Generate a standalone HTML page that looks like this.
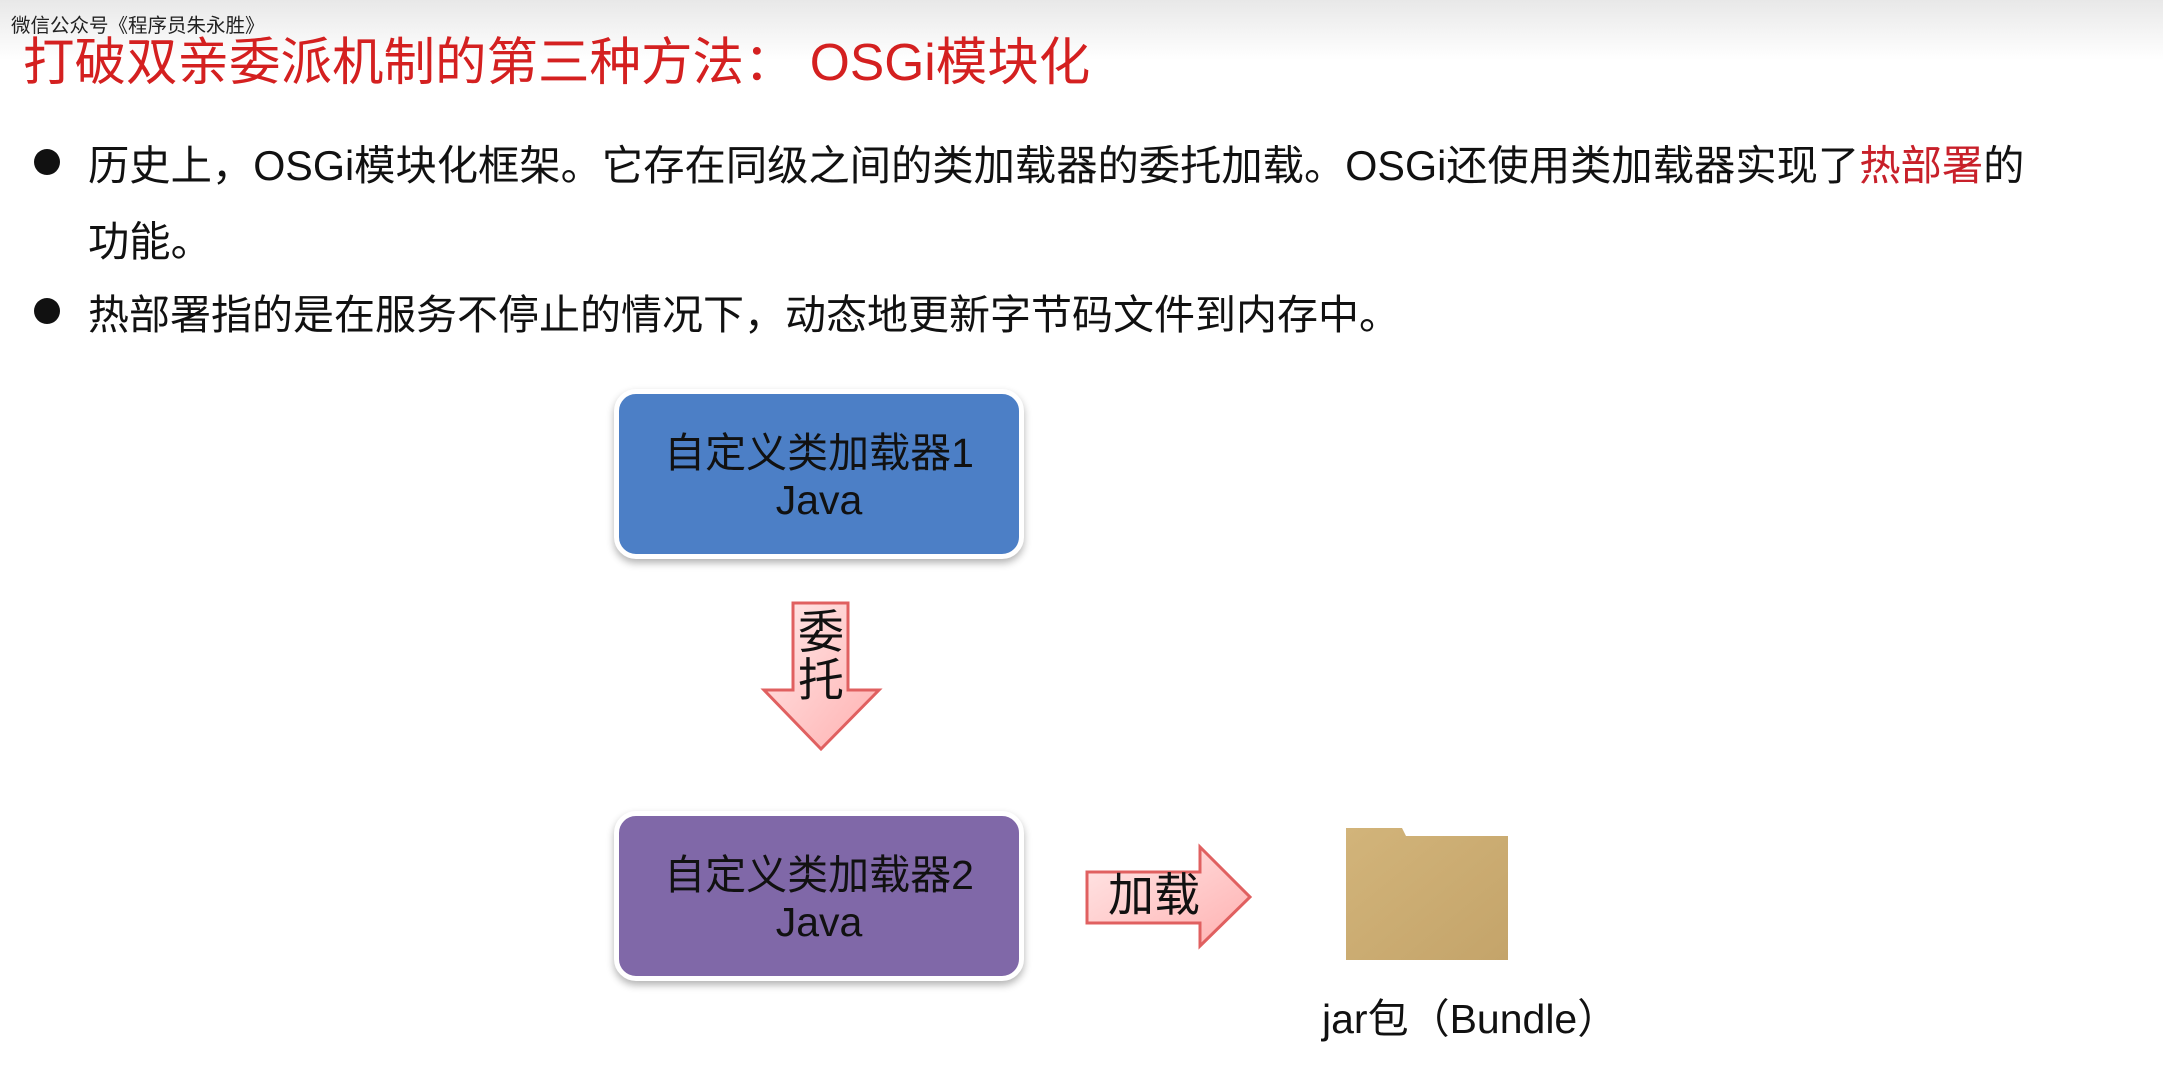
<!DOCTYPE html>
<html><head><meta charset="utf-8">
<style>
body{margin:0;width:2163px;height:1084px;position:relative;overflow:hidden;background:#fff;font-family:"Liberation Sans","Noto Sans CJK SC",sans-serif;color:#111;}
.abs{position:absolute;white-space:nowrap;}
.top{position:absolute;left:0;top:0;width:2163px;height:60px;background:linear-gradient(#e8e8e8,#fff);}
.box{position:absolute;left:614px;width:410px;height:170px;border-radius:22px;border:5px solid #fff;box-shadow:0 4px 8px rgba(0,0,0,0.3);box-sizing:border-box;text-align:center;font-size:41px;line-height:47px;padding-top:36px;color:#111;}
</style></head><body>
<div class="top"></div>
<div class="abs" style="left:11px;top:9px;font-size:19.5px;color:#222;">微信公众号《程序员朱永胜》</div>
<div class="abs" style="left:23px;top:20px;font-size:51.5px;color:#d42020;">打破双亲委派机制的第三种方法： OSGi模块化</div>
<div class="abs" style="left:34px;top:149px;width:26px;height:26px;border-radius:50%;background:#111;"></div>
<div class="abs" style="left:88px;top:132px;font-size:41.3px;">历史上，OSGi模块化框架。它存在同级之间的类加载器的委托加载。OSGi还使用类加载器实现了<span style="color:#c8202a">热部署</span>的</div>
<div class="abs" style="left:88px;top:208px;font-size:41.3px;">功能。</div>
<div class="abs" style="left:34px;top:298px;width:26px;height:26px;border-radius:50%;background:#111;"></div>
<div class="abs" style="left:88px;top:281px;font-size:41px;">热部署指的是在服务不停止的情况下，动态地更新字节码文件到内存中。</div>

<div class="box" style="top:389px;background:#4c7fc6;">自定义类加载器1<br>Java</div>
<div class="box" style="top:811px;background:#8068a8;">自定义类加载器2<br>Java</div>

<svg class="abs" style="left:0;top:0" width="2163" height="1084">
<defs>
<linearGradient id="g" x1="0" y1="0" x2="1" y2="1"><stop offset="0" stop-color="#ffe8e8"/><stop offset="1" stop-color="#ffb0b0"/></linearGradient>
<linearGradient id="f" x1="0" y1="0" x2="1" y2="1"><stop offset="0" stop-color="#d2b47a"/><stop offset="1" stop-color="#c4a46a"/></linearGradient>
</defs>
<polygon points="793,603 848,603 848,690 879,690 821,749 764,690 793,690" fill="url(#g)" stroke="#e06060" stroke-width="3"/>
<polygon points="1087,872 1200,872 1200,847 1250,897 1200,946 1200,923 1087,923" fill="url(#g)" stroke="#e06060" stroke-width="3"/>
<path d="M1346,960 L1346,828 L1402,828 L1406,836 L1508,836 L1508,960 Z" fill="url(#f)"/>
</svg>
<div class="abs" style="left:793px;top:608px;font-size:46px;line-height:48px;width:56px;text-align:center;">委<br>托</div>
<div class="abs" style="left:1108px;top:870px;font-size:46px;line-height:50px;">加载</div>
<div class="abs" style="left:1322px;top:985px;font-size:41px;">jar包（Bundle）</div>
</body></html>
